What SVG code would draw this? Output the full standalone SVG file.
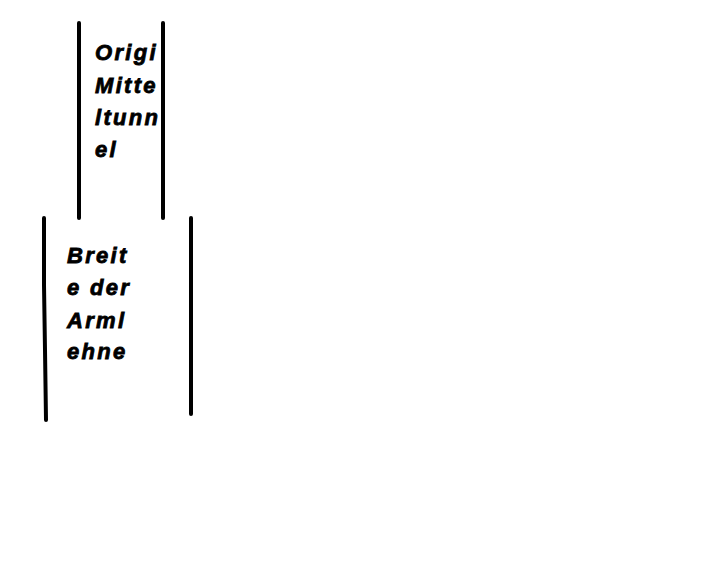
<svg xmlns="http://www.w3.org/2000/svg" width="719" height="568" viewBox="0 0 719 568">
<style>
.ln{stroke:#000;stroke-width:4;stroke-linecap:round;fill:none}
.t{font-family:"Liberation Sans",Arial,sans-serif;font-weight:bold;font-style:italic;font-size:22px;letter-spacing:2.3px;fill:#000;stroke:#000;stroke-width:0.8}
</style>
<rect width="719" height="568" fill="#fff"/>
<g id="connectors">
<line class="ln" x1="79" y1="23" x2="79" y2="218"/>
<line class="ln" x1="163" y1="23" x2="163" y2="218"/>
<polyline class="ln" points="44,218 44,285 45,350 46,420"/>
<line class="ln" x1="191" y1="218" x2="191" y2="414"/>
</g>
<g id="node-mitteltunnel">
<text class="t" x="95" y="60">Origi</text>
<text class="t" x="95" y="93">Mitte</text>
<text class="t" x="95" y="125">ltunn</text>
<text class="t" x="95" y="157">el</text>
</g>
<g id="node-armlehne">
<text class="t" x="67" y="263">Breit</text>
<text class="t" x="67" y="295">e der</text>
<text class="t" x="67" y="328">Arml</text>
<text class="t" x="67" y="359">ehne</text>
</g>
</svg>
